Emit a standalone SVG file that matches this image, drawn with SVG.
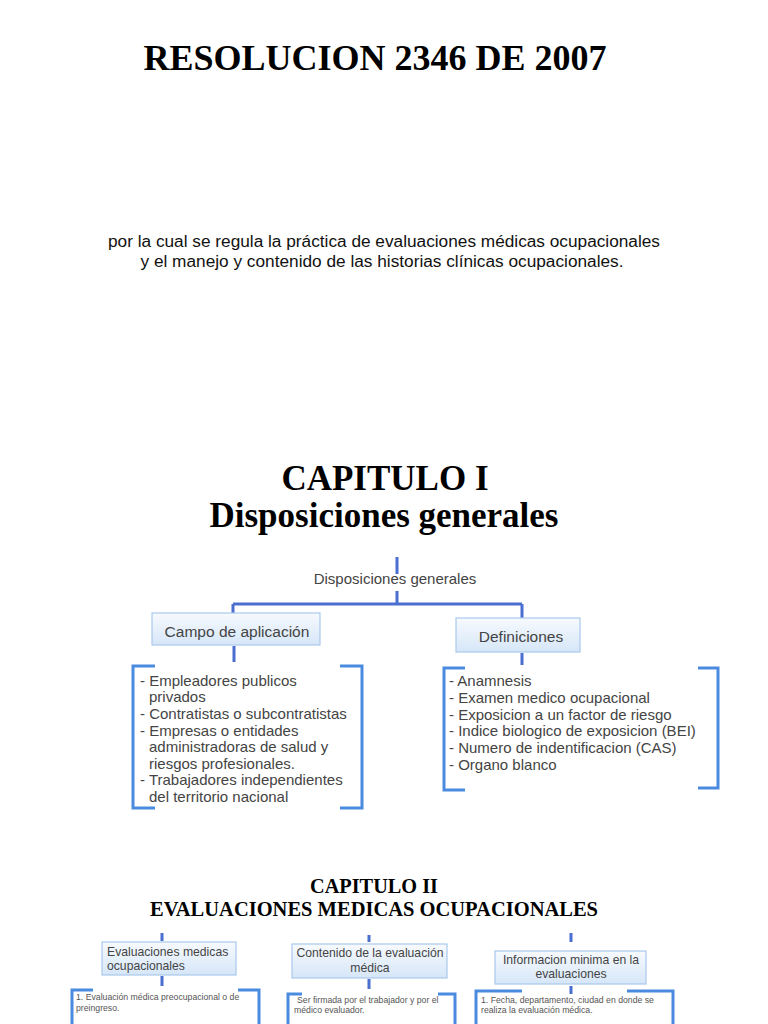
<svg xmlns="http://www.w3.org/2000/svg" width="768" height="1024" viewBox="0 0 768 1024">
<defs>
<linearGradient id="bx" x1="0" y1="0" x2="0" y2="1">
<stop offset="0" stop-color="#f7fafe"/>
<stop offset="1" stop-color="#d6e6f8"/>
</linearGradient>
<style>
.h{font-family:"Liberation Serif","Times New Roman",serif;font-weight:bold;fill:#000;text-anchor:middle}
.sub{font-family:"Liberation Sans",Arial,sans-serif;font-size:16px;fill:#111;text-anchor:middle}
.box{fill:url(#bx);stroke:#a9c9ec;stroke-width:1.2}
.bt{font-family:"Liberation Sans",Arial,sans-serif;fill:#444}
.lt{font-family:"Liberation Sans",Arial,sans-serif;font-size:15px;fill:#444}
.st{font-family:"Liberation Sans",Arial,sans-serif;font-size:8.7px;fill:#555}
.tr{stroke:#4b6fd0;stroke-width:3;fill:none}
.br{stroke:#4a8be0;stroke-width:3;fill:none}
</style>
</defs>
<rect width="768" height="1024" fill="#fff"/>

<text class="h" x="375" y="70" font-size="36">RESOLUCION 2346 DE 2007</text>
<text class="sub" x="384" y="247" textLength="552" lengthAdjust="spacingAndGlyphs">por la cual se regula la práctica de evaluaciones médicas ocupacionales</text>
<text class="sub" x="382" y="267" textLength="483" lengthAdjust="spacingAndGlyphs">y el manejo y contenido de las historias clínicas ocupacionales.</text>

<text class="h" x="385" y="490" font-size="35">CAPITULO I</text>
<text class="h" x="384" y="527" font-size="35">Disposiciones generales</text>

<g id="connectors">
<path class="tr" d="M397 557V574M397 591V604M233 604H522M233 604V613M522 604V618M234 646V662M522 653V665"/>
<path class="br" d="M155 666H133V808H155M340 666H362V808H340"/>
<path class="br" d="M465 668H444V790H465M698 668H718V788H698"/>
<path class="tr" d="M162 933V941M162 976V986M369 935V942M369 979V989M571 933V942M571 986V994"/>
<path class="br" d="M93 990H72V1024M238 990H259V1024"/>
<path class="br" d="M302 994H288V1024M438 994H455V1024"/>
<path class="br" d="M522 991H476V1024M627 991H673V1024"/>
</g>

<g id="n-disposiciones">
<text class="bt" x="395" y="584" font-size="15" text-anchor="middle" fill="#555">Disposiciones generales</text>
</g>

<g id="n-campo">
<rect class="box" x="152" y="613" width="168" height="32"/>
<text class="bt" x="237" y="637" font-size="15.5" text-anchor="middle">Campo de aplicación</text>
</g>

<g id="n-campo-list">
<text class="lt" x="140" y="686">- Empleadores publicos</text>
<text class="lt" x="149" y="702">privados</text>
<text class="lt" x="140" y="719">- Contratistas o subcontratistas</text>
<text class="lt" x="140" y="736">- Empresas o entidades</text>
<text class="lt" x="149" y="752">administradoras de salud y</text>
<text class="lt" x="149" y="769">riesgos profesionales.</text>
<text class="lt" x="140" y="785">- Trabajadores independientes</text>
<text class="lt" x="149" y="802">del territorio nacional</text>
</g>

<g id="n-definiciones">
<rect class="box" x="456" y="618" width="124" height="34"/>
<text class="bt" x="521" y="642" font-size="15.5" text-anchor="middle">Definiciones</text>
</g>

<g id="n-def-list">
<text class="lt" x="449" y="686">- Anamnesis</text>
<text class="lt" x="449" y="703">- Examen medico ocupacional</text>
<text class="lt" x="449" y="720">- Exposicion a un factor de riesgo</text>
<text class="lt" x="449" y="736">- Indice biologico de exposicion (BEI)</text>
<text class="lt" x="449" y="753">- Numero de indentificacion (CAS)</text>
<text class="lt" x="449" y="770">- Organo blanco</text>
</g>

<text class="h" x="374" y="893" font-size="20.3">CAPITULO II</text>
<text class="h" x="374" y="916" font-size="20.5">EVALUACIONES MEDICAS OCUPACIONALES</text>

<g id="n-eval">
<rect class="box" x="102" y="942" width="134" height="33"/>
<text class="bt" x="107" y="956" font-size="12.2">Evaluaciones medicas</text>
<text class="bt" x="107" y="970" font-size="12.2">ocupacionales</text>
</g>
<g id="n-eval-list">
<text class="st" x="76" y="1000">1. Evaluación médica preocupacional o de</text>
<text class="st" x="76" y="1011">preingreso.</text>
</g>

<g id="n-contenido">
<rect class="box" x="292" y="944" width="155" height="34"/>
<text class="bt" x="370" y="957" font-size="12.2" text-anchor="middle">Contenido de la evaluación</text>
<text class="bt" x="370" y="972" font-size="12.2" text-anchor="middle">médica</text>
</g>
<g id="n-contenido-list">
<text class="st" x="297" y="1003"> Ser firmada por el trabajador y por el</text>
<text class="st" x="294" y="1013">médico evaluador.</text>
</g>

<g id="n-info">
<rect class="box" x="495" y="951" width="151" height="33"/>
<text class="bt" x="571" y="964" font-size="12.2" text-anchor="middle">Informacion minima en la</text>
<text class="bt" x="571" y="978" font-size="12.2" text-anchor="middle">evaluaciones</text>
</g>
<g id="n-info-list">
<text class="st" x="481" y="1003">1. Fecha, departamento, ciudad en donde se</text>
<text class="st" x="481" y="1013">realiza la evaluación médica.</text>
</g>
</svg>
